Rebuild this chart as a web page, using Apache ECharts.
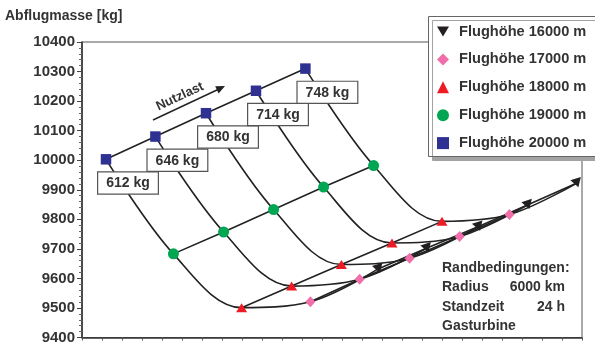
<!DOCTYPE html>
<html><head><meta charset="utf-8">
<script src="https://cdn.jsdelivr.net/npm/echarts@6/dist/echarts.min.js"></script>
<style>html,body{margin:0;padding:0;background:#fff}#c{width:595px;height:345px}</style>
</head><body><div id="c"></div>
<script>
// ---- data ----
const payloads = [612, 646, 680, 714, 748];               // Nutzlast [kg]
const altitudeNames = ['Flughöhe 16000 m','Flughöhe 17000 m','Flughöhe 18000 m','Flughöhe 19000 m','Flughöhe 20000 m'];
// carpet offsets (horizontal, arbitrary units) and take-off mass per payload
const x16000 = [14.83, 17.25, 19.83, 22.30, 24.75];
const m16000 = [9633, 9703, 9776, 9849, 9923];
const x17000 = [11.42, 13.88, 16.38, 18.88, 21.37];
const m17000 = [9521, 9597, 9668, 9742, 9816];
const x18000 = [7.98, 10.48, 12.97, 15.50, 18.00];
const m18000 = [9501, 9574, 9647, 9720, 9793];
const x19000 = [4.57, 7.08, 9.58, 12.08, 14.58];
const m19000 = [9683, 9757, 9833, 9909, 9982];
const x20000 = [1.20, 3.67, 6.20, 8.70, 11.17];
const m20000 = [10003, 10080, 10159, 10235, 10310];
const yMin = 9400, yMax = 10400, yStep = 100;
const xMin = 0, xMax = 25, xStep = 1;
const notes = ['Randbedingungen:', 'Radius', 'Standzeit', 'Gasturbine'];
const noteValues = ['', '6000 km', '24 h', ''];

// ---- styles ----
const FONT = 'Liberation Sans';
const TXT = '#333';
const LINE = '#222';
const altX = [x16000, x17000, x18000, x19000, x20000];
const altM = [m16000, m17000, m18000, m19000, m20000];
const altStyle = [
  {symbol: 'triangle', rotate: 198, size: [11, 9], color: '#231f20', icon: 'path://M0,0L12,0L6,10Z'},
  {symbol: 'diamond', rotate: 0, size: [10, 11], color: '#f06eaa', icon: 'diamond'},
  {symbol: 'triangle', rotate: 0, size: [11, 9], color: '#ed1c24', icon: 'triangle'},
  {symbol: 'circle', rotate: 0, size: 11, color: '#00a651', icon: 'circle'},
  {symbol: 'rect', rotate: 0, size: 10.5, color: '#2e3192', icon: 'rect'}
];

const series = [];
// payload curves (constant Nutzlast), altitude 20000 -> 16000
payloads.forEach((p, i) => {
  const order = [4, 3, 2, 1, 0];
  series.push({
    type: 'line', name: 'payload' + p, smooth: 0.35, symbol: 'none', z: 2,
    lineStyle: {color: LINE, width: 1.6},
    data: order.map(a => [altX[a][i], altM[a][i]]),
    silent: true
  });
});
// constant altitude lines with markers
altitudeNames.forEach((n, a) => {
  const st = altStyle[a];
  const s = {
    type: 'line', name: n, z: 3 + (a === 4 ? 2 : 0),
    symbol: st.symbol, symbolSize: st.size, symbolRotate: st.rotate,
    showAllSymbol: true,
    itemStyle: {color: st.color, opacity: 1},
    lineStyle: {color: LINE, width: 1.6},
    data: altX[a].map((x, i) => [x, altM[a][i]])
  };
  if (a === 4) {
    s.label = {
      show: true, position: 'bottom', offset: [22, 3],
      formatter: p => payloads[p.dataIndex] + ' kg',
      fontFamily: FONT, fontWeight: 'bold', fontSize: 14, color: TXT,
      backgroundColor: '#fff', borderColor: '#555', borderWidth: 1.2,
      padding: [3, 8, 2, 8], lineHeight: 16
    };
  }
  series.push(s);
});

const chart = echarts.init(document.getElementById('c'), null, {renderer: 'canvas'});
const graphic = [];
// legend frame (runs off the right edge like the original)
graphic.push({type: 'rect', shape: {x: 428.5, y: 16.5, width: 200, height: 140},
  style: {fill: '#fff', stroke: '#666', lineWidth: 1, shadowColor: '#a3a3a3', shadowBlur: 0, shadowOffsetX: 4, shadowOffsetY: 4}, z: 8});
// Nutzlast annotation
graphic.push({type: 'text', x: 180, y: 96.5, rotation: 25 * Math.PI / 180,
  style: {text: 'Nutzlast', font: 'bold 13px "' + FONT + '"', fill: TXT, align: 'center', verticalAlign: 'middle'}, z: 10});
graphic.push({type: 'line', shape: {x1: 153, y1: 120, x2: 218, y2: 89.5}, style: {stroke: LINE, lineWidth: 1.4}, z: 10});
graphic.push({type: 'polygon', shape: {points: [[225, 86], [218.6, 93.4], [215.2, 86.2]]}, style: {fill: LINE}, z: 10});
// Randbedingungen
notes.forEach((t, i) => {
  graphic.push({type: 'text', x: 442, y: 268.5 + i * 19.1,
    style: {text: t, font: 'bold 14px "' + FONT + '"', fill: TXT, verticalAlign: 'middle', align: 'left'}, z: 10});
  if (noteValues[i]) graphic.push({type: 'text', x: 565, y: 268.5 + i * 19.1,
    style: {text: noteValues[i], font: 'bold 14px "' + FONT + '"', fill: TXT, verticalAlign: 'middle', align: 'right'}, z: 10});
});

chart.setOption({
  animation: false,
  backgroundColor: '#fff',
  title: {text: 'Abflugmasse [kg]', left: 5, top: 9, padding: 0,
    textStyle: {fontFamily: FONT, fontSize: 14, fontWeight: 'bold', color: TXT}},
  grid: {left: 82, right: 13, top: 42, bottom: 7, show: true, borderColor: '#555', borderWidth: 1, backgroundColor: 'transparent'},
  xAxis: {type: 'value', min: xMin, max: xMax, interval: xStep,
    axisLine: {show: true, onZero: false, lineStyle: {color: '#333', width: 1.6}},
    axisTick: {show: true, length: 3, lineStyle: {color: '#555'}},
    axisLabel: {show: false}, splitLine: {show: false}},
  yAxis: {type: 'value', min: yMin, max: yMax, interval: yStep,
    axisLine: {show: true, lineStyle: {color: '#333', width: 1.6}},
    axisTick: {show: true, length: 5, lineStyle: {color: '#444'}},
    minorTick: {show: true, splitNumber: 5, length: 3, lineStyle: {color: '#666'}},
    axisLabel: {margin: 7, fontFamily: FONT, fontSize: 15, fontWeight: 'bold', color: TXT, formatter: v => String(v)},
    splitLine: {show: false}},
  legend: {
    orient: 'vertical', left: 428, top: 16, padding: [8, 10, 6, 9], z: 12,
    itemWidth: 12, itemHeight: 12, itemGap: 12.9, selectedMode: false,
    backgroundColor: 'transparent', borderWidth: 0,
    textStyle: {fontFamily: FONT, fontSize: 14.6, fontWeight: 'bold', color: TXT, lineHeight: 14, padding: [0, 0, 0, 5]},
    data: altitudeNames.map((n, a) => ({name: n, icon: altStyle[a].icon, itemStyle: {color: altStyle[a].color}}))
  },
  graphic: graphic,
  series: series
});
</script></body></html>
